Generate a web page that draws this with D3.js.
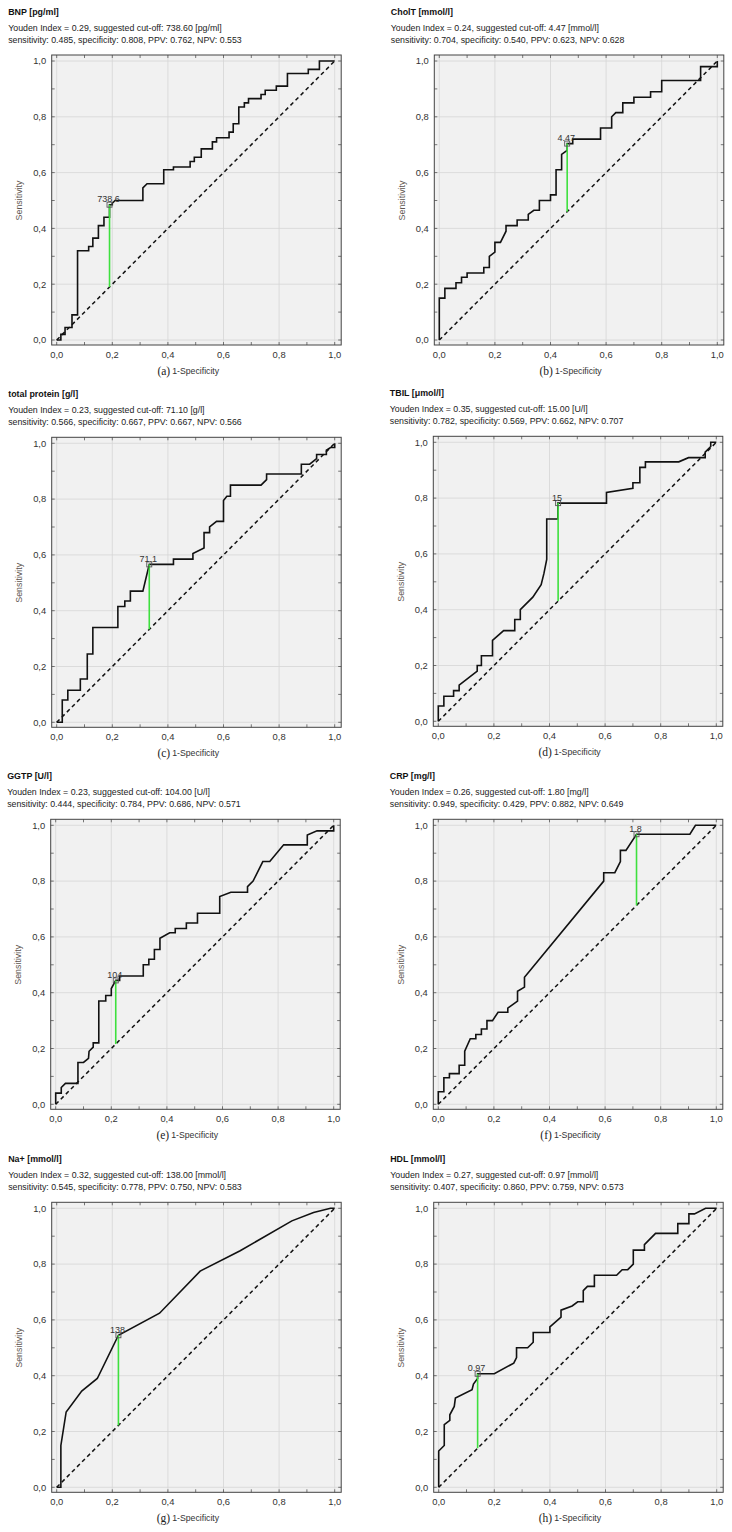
<!DOCTYPE html>
<html><head><meta charset="utf-8">
<script src="https://cdn.jsdelivr.net/npm/d3@7"></script>
<style>body{margin:0;background:#fff}svg{display:block}</style>
</head><body>
<script>
// ---------- data ----------
const panelLetters = ["a","b","c","d","e","f","g","h"];
const titles = ["BNP [pg/ml]","CholT [mmol/l]","total protein [g/l]","TBIL [μmol/l]","GGTP [U/l]","CRP [mg/l]","Na+ [mmol/l]","HDL [mmol/l]"];
const youdenLines = [
 "Youden Index = 0.29, suggested cut-off: 738.60 [pg/ml]",
 "Youden Index = 0.24, suggested cut-off: 4.47 [mmol/l]",
 "Youden Index = 0.23, suggested cut-off: 71.10 [g/l]",
 "Youden Index = 0.35, suggested cut-off: 15.00 [U/l]",
 "Youden Index = 0.23, suggested cut-off: 104.00 [U/l]",
 "Youden Index = 0.26, suggested cut-off: 1.80 [mg/l]",
 "Youden Index = 0.32, suggested cut-off: 138.00 [mmol/l]",
 "Youden Index = 0.27, suggested cut-off: 0.97 [mmol/l]"];
const statLines = [
 "sensitivity: 0.485, specificity: 0.808, PPV: 0.762, NPV: 0.553",
 "sensitivity: 0.704, specificity: 0.540, PPV: 0.623, NPV: 0.628",
 "sensitivity: 0.566, specificity: 0.667, PPV: 0.667, NPV: 0.566",
 "sensitivity: 0.782, specificity: 0.569, PPV: 0.662, NPV: 0.707",
 "sensitivity: 0.444, specificity: 0.784, PPV: 0.686, NPV: 0.571",
 "sensitivity: 0.949, specificity: 0.429, PPV: 0.882, NPV: 0.649",
 "sensitivity: 0.545, specificity: 0.778, PPV: 0.750, NPV: 0.583",
 "sensitivity: 0.407, specificity: 0.860, PPV: 0.759, NPV: 0.573"];
const cutLabels = ["738.6","4.47","71.1","15","104","1.8","138","0.97"];
const cutX = [0.19, 0.46, 0.333, 0.431, 0.216, 0.713, 0.222, 0.14];
const cutY = [0.485, 0.704, 0.566, 0.782, 0.444, 0.968, 0.545, 0.407];
const tickValues = [0, 0.2, 0.4, 0.6, 0.8, 1.0];
const xAxisLabel = "1-Specificity";
const yAxisLabel = "Sensitivity";

const rocBNP = [[0,0],[0.015,0],[0.015,0.02],[0.03,0.02],[0.03,0.045],[0.055,0.045],[0.055,0.09],[0.075,0.09],[0.075,0.32],[0.115,0.32],[0.115,0.335],[0.13,0.335],[0.13,0.365],[0.15,0.365],[0.15,0.41],[0.17,0.41],[0.17,0.44],[0.19,0.44],[0.19,0.485],[0.2,0.485],[0.2,0.49],[0.21,0.5],[0.31,0.5],[0.31,0.545],[0.325,0.56],[0.385,0.56],[0.385,0.61],[0.42,0.61],[0.42,0.62],[0.48,0.62],[0.48,0.64],[0.495,0.64],[0.495,0.655],[0.52,0.655],[0.52,0.685],[0.56,0.685],[0.56,0.71],[0.575,0.71],[0.575,0.725],[0.62,0.725],[0.62,0.745],[0.635,0.745],[0.635,0.775],[0.655,0.775],[0.655,0.835],[0.675,0.835],[0.675,0.85],[0.69,0.85],[0.69,0.865],[0.735,0.865],[0.735,0.88],[0.75,0.88],[0.75,0.895],[0.79,0.895],[0.79,0.91],[0.83,0.91],[0.83,0.955],[0.905,0.955],[0.905,0.97],[0.945,0.97],[0.945,1],[1,1]];
const rocCholT = [[0,0],[0,0.15],[0.02,0.15],[0.02,0.185],[0.06,0.185],[0.06,0.205],[0.08,0.205],[0.08,0.225],[0.1,0.225],[0.1,0.24],[0.16,0.24],[0.16,0.26],[0.18,0.26],[0.18,0.3],[0.2,0.315],[0.2,0.35],[0.22,0.35],[0.24,0.39],[0.24,0.41],[0.28,0.41],[0.28,0.43],[0.32,0.43],[0.32,0.45],[0.34,0.465],[0.36,0.465],[0.36,0.5],[0.4,0.5],[0.4,0.52],[0.42,0.52],[0.42,0.61],[0.44,0.61],[0.44,0.665],[0.46,0.68],[0.46,0.704],[0.48,0.704],[0.48,0.72],[0.58,0.72],[0.58,0.76],[0.62,0.76],[0.62,0.8],[0.635,0.815],[0.66,0.815],[0.66,0.85],[0.7,0.85],[0.7,0.87],[0.76,0.87],[0.76,0.89],[0.8,0.89],[0.8,0.93],[0.94,0.93],[0.94,0.98],[1,0.98],[1,1]];
const rocProtein = [[0,0],[0.02,0],[0.02,0.08],[0.04,0.08],[0.04,0.115],[0.085,0.115],[0.085,0.155],[0.11,0.155],[0.11,0.245],[0.13,0.245],[0.13,0.34],[0.22,0.34],[0.22,0.415],[0.245,0.415],[0.245,0.435],[0.265,0.435],[0.265,0.47],[0.31,0.47],[0.333,0.566],[0.42,0.566],[0.42,0.585],[0.49,0.585],[0.49,0.605],[0.53,0.625],[0.53,0.68],[0.55,0.68],[0.55,0.7],[0.575,0.72],[0.6,0.72],[0.6,0.795],[0.612,0.81],[0.625,0.81],[0.625,0.85],[0.735,0.85],[0.755,0.87],[0.755,0.89],[0.88,0.89],[0.88,0.925],[0.91,0.925],[0.935,0.945],[0.935,0.96],[0.97,0.96],[0.97,0.975],[0.985,0.985],[1,0.985],[1,1]];
const rocTBIL = [[0,0],[0,0.055],[0.02,0.055],[0.02,0.09],[0.055,0.09],[0.055,0.11],[0.075,0.11],[0.075,0.13],[0.14,0.18],[0.14,0.2],[0.155,0.2],[0.155,0.235],[0.195,0.235],[0.195,0.29],[0.235,0.325],[0.275,0.325],[0.275,0.365],[0.295,0.365],[0.295,0.4],[0.34,0.445],[0.37,0.49],[0.38,0.53],[0.39,0.58],[0.39,0.725],[0.43,0.725],[0.43,0.782],[0.605,0.782],[0.605,0.82],[0.7,0.835],[0.7,0.855],[0.725,0.855],[0.725,0.91],[0.745,0.91],[0.745,0.93],[0.865,0.93],[0.9,0.945],[0.96,0.945],[0.96,0.965],[0.98,0.985],[0.98,1],[1,1]];
const rocGGTP = [[0,0],[0,0.04],[0.02,0.04],[0.02,0.06],[0.035,0.075],[0.08,0.075],[0.08,0.15],[0.1,0.15],[0.118,0.165],[0.12,0.19],[0.135,0.205],[0.135,0.22],[0.155,0.22],[0.155,0.37],[0.18,0.37],[0.18,0.39],[0.2,0.39],[0.2,0.415],[0.216,0.444],[0.23,0.444],[0.23,0.46],[0.315,0.46],[0.315,0.5],[0.335,0.5],[0.335,0.52],[0.355,0.52],[0.355,0.555],[0.375,0.555],[0.375,0.595],[0.41,0.615],[0.43,0.615],[0.43,0.63],[0.47,0.63],[0.47,0.65],[0.51,0.65],[0.51,0.685],[0.59,0.685],[0.59,0.745],[0.63,0.76],[0.69,0.76],[0.69,0.78],[0.71,0.8],[0.745,0.87],[0.77,0.87],[0.82,0.93],[0.905,0.93],[0.905,0.965],[0.94,0.98],[0.99,0.98],[1,0.98],[1,1]];
const rocCRP = [[0,0],[0,0.045],[0.02,0.045],[0.02,0.095],[0.04,0.095],[0.04,0.11],[0.075,0.11],[0.075,0.14],[0.095,0.14],[0.095,0.19],[0.115,0.235],[0.135,0.235],[0.135,0.25],[0.155,0.25],[0.155,0.27],[0.175,0.27],[0.175,0.3],[0.195,0.3],[0.215,0.33],[0.25,0.33],[0.25,0.345],[0.285,0.37],[0.285,0.405],[0.31,0.42],[0.31,0.455],[0.595,0.8],[0.595,0.83],[0.635,0.83],[0.655,0.87],[0.655,0.91],[0.675,0.91],[0.713,0.968],[0.905,0.968],[0.925,1],[1,1]];
const rocNa = [[0,0],[0.015,0],[0.015,0.15],[0.034,0.27],[0.09,0.345],[0.146,0.39],[0.222,0.545],[0.37,0.624],[0.516,0.775],[0.66,0.848],[0.846,0.955],[0.924,0.985],[0.985,1],[1,1]];
const rocHDL = [[0,0],[0,0.13],[0.02,0.15],[0.02,0.225],[0.04,0.24],[0.04,0.26],[0.056,0.29],[0.06,0.32],[0.12,0.35],[0.125,0.37],[0.14,0.39],[0.14,0.407],[0.2,0.407],[0.27,0.445],[0.28,0.465],[0.28,0.5],[0.32,0.5],[0.34,0.52],[0.34,0.555],[0.4,0.555],[0.4,0.575],[0.44,0.61],[0.44,0.635],[0.48,0.65],[0.5,0.665],[0.52,0.665],[0.52,0.705],[0.535,0.72],[0.56,0.72],[0.56,0.76],[0.64,0.76],[0.66,0.78],[0.68,0.78],[0.7,0.8],[0.7,0.85],[0.74,0.85],[0.74,0.87],[0.78,0.91],[0.86,0.91],[0.86,0.945],[0.9,0.945],[0.9,0.98],[0.92,0.98],[0.96,1],[1,1]];
const rocCurves = [rocBNP, rocCholT, rocProtein, rocTBIL, rocGGTP, rocCRP, rocNa, rocHDL];

// ---------- layout ----------
const originX = [56.7, 439.3, 56.7, 438.3, 55.7, 438.3, 56.7, 438.7];
const originY = [61, 61, 443.3, 442.3, 825.3, 825.3, 1208.3, 1208.3];
const PW = 278, PH = 279;

const svg = d3.select("body").append("svg").attr("width",732).attr("height",1532)
  .style("font-family","'Liberation Sans', Arial, sans-serif");

const fmt = v => d3.format(".1f")(v).replace(".", ",");

panelLetters.forEach((letter, i) => {
  const x = d3.scaleLinear().domain([0,1]).range([originX[i], originX[i]+PW]);
  const y = d3.scaleLinear().domain([0,1]).range([originY[i]+PH, originY[i]]);
  const fl = x(0)-5, fr = x(1)+6.5, ft = y(1)-6, fb = y(0)+5;
  const g = svg.append("g");

  // header
  g.append("text").attr("x", x(0)-48.5).attr("y", ft-40).attr("font-size",8.9).attr("font-weight","bold").attr("fill","#111").text(titles[i]);
  g.append("text").attr("x", x(0)-48.5).attr("y", ft-24.5).attr("font-size",8.8).attr("fill","#222").text(youdenLines[i]);
  g.append("text").attr("x", x(0)-48.5).attr("y", ft-12).attr("font-size",8.8).attr("fill","#222").text(statLines[i]);

  // background
  g.append("rect").attr("x",fl).attr("y",ft).attr("width",fr-fl).attr("height",fb-ft).attr("fill","#f1f1f1");
  // grid
  g.selectAll(".gx").data(tickValues).join("line").attr("x1",d=>x(d)).attr("x2",d=>x(d)).attr("y1",ft).attr("y2",fb).attr("stroke","#d6d6d6").attr("stroke-width",0.8);
  g.selectAll(".gy").data(tickValues).join("line").attr("y1",d=>y(d)).attr("y2",d=>y(d)).attr("x1",fl).attr("x2",fr).attr("stroke","#d6d6d6").attr("stroke-width",0.8);
  // inner ticks every 0.1
  const minor = d3.range(0, 1.01, 0.1);
  g.selectAll(".tb").data(minor).join("line").attr("x1",d=>x(d)).attr("x2",d=>x(d)).attr("y1",fb).attr("y2",fb-3).attr("stroke","#555").attr("stroke-width",0.8);
  g.selectAll(".tt").data(minor).join("line").attr("x1",d=>x(d)).attr("x2",d=>x(d)).attr("y1",ft).attr("y2",ft+3).attr("stroke","#555").attr("stroke-width",0.8);
  g.selectAll(".tl").data(minor).join("line").attr("y1",d=>y(d)).attr("y2",d=>y(d)).attr("x1",fl).attr("x2",fl+3).attr("stroke","#555").attr("stroke-width",0.8);
  g.selectAll(".tr").data(minor).join("line").attr("y1",d=>y(d)).attr("y2",d=>y(d)).attr("x1",fr).attr("x2",fr-3).attr("stroke","#555").attr("stroke-width",0.8);
  // frame
  g.append("rect").attr("x",fl).attr("y",ft).attr("width",fr-fl).attr("height",fb-ft).attr("fill","none").attr("stroke","#444").attr("stroke-width",1);

  // tick labels
  g.selectAll(".xl").data(tickValues).join("text").attr("x",d=>x(d)).attr("y",fb+12.5).attr("text-anchor","middle").attr("font-size",9.4).attr("fill","#333").text(fmt);
  g.selectAll(".yl").data(tickValues).join("text").attr("x",fl-5.5).attr("y",d=>y(d)+3.3).attr("text-anchor","end").attr("font-size",9.4).attr("fill","#333").text(fmt);

  // axis titles
  const cx = (x(0)+x(1))/2;
  g.append("text").attr("x",cx).attr("y",fb+29).attr("text-anchor","middle").attr("font-size",8.7).attr("fill","#333").text(xAxisLabel);
  g.append("text").attr("x",cx-25.5).attr("y",fb+29.5).attr("text-anchor","end").attr("font-size",11.5)
    .attr("font-family","'Liberation Serif', 'Times New Roman', serif").attr("fill","#222").text("("+letter+")");
  const cy = (y(0)+y(1))/2;
  g.append("text").attr("transform",`translate(${fl-29.5},${cy}) rotate(-90)`).attr("text-anchor","middle").attr("font-size",8.9).attr("fill","#5e5650").text(yAxisLabel);

  // diagonal reference
  g.append("line").attr("x1",x(0)).attr("y1",y(0)).attr("x2",x(1)).attr("y2",y(1)).attr("stroke","#111").attr("stroke-width",1.5).attr("stroke-dasharray","4,3.2");

  // ROC curve
  const line = d3.line().x(d=>x(d[0])).y(d=>y(d[1]));
  g.append("path").datum(rocCurves[i]).attr("d",line).attr("fill","none").attr("stroke","#111").attr("stroke-width",1.6).attr("stroke-linejoin","miter");

  // Youden line
  g.append("line").attr("x1",x(cutX[i])).attr("x2",x(cutX[i])).attr("y1",y(cutY[i])).attr("y2",y(cutX[i])).attr("stroke","#3ee03e").attr("stroke-width",1.6);
  // marker
  g.append("rect").attr("x",x(cutX[i])-2.5).attr("y",y(cutY[i])-2.5).attr("width",5).attr("height",5).attr("fill","none").attr("stroke","#555").attr("stroke-width",0.9);
  g.append("text").attr("x",x(cutX[i])-1).attr("y",y(cutY[i])-2.5).attr("text-anchor","middle").attr("font-size",9).attr("fill","#333").text(cutLabels[i]);
});
</script>
</body></html>
